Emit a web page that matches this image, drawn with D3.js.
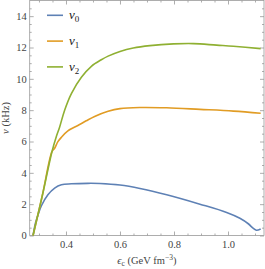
<!DOCTYPE html>
<html>
<head>
<meta charset="utf-8">
<script src="https://cdn.jsdelivr.net/npm/d3@7"></script>
<style>
  body { margin: 0; background: #fff; }
  svg { display: block; }
  .tick text { font-family: "Liberation Serif", serif; font-size: 10.5px; fill: #444; }
</style>
</head>
<body>
<svg id="chart"></svg>
<script>
// values (energy density in GeV fm^-3, frequency in kHz)
const nu0X = [0.278, 0.287, 0.297, 0.309, 0.333, 0.358, 0.383, 0.42, 0.481, 0.526, 0.6, 0.674, 0.773, 0.896, 0.995, 1.044, 1.075, 1.094, 1.105, 1.121];
const nu0Y = [0, 0.8, 1.35, 1.9, 2.6, 3.03, 3.24, 3.30, 3.33, 3.32, 3.22, 3.0, 2.6, 2.0, 1.47, 1.1, 0.75, 0.45, 0.34, 0.42];

const nu1X = [0.278, 0.313, 0.348, 0.358, 0.370, 0.383, 0.407, 0.444, 0.475, 0.506, 0.556, 0.6, 0.674, 0.773, 0.896, 1.02, 1.121];
const nu1Y = [0, 2.6, 5.35, 5.57, 5.99, 6.27, 6.68, 7.02, 7.32, 7.6, 7.93, 8.1, 8.17, 8.15, 8.05, 7.94, 7.8];

const nu2X = [0.278, 0.313, 0.348, 0.364, 0.376, 0.395, 0.42, 0.457, 0.494, 0.531, 0.556, 0.6, 0.649, 0.711, 0.798, 0.872, 0.958, 1.02, 1.121];
const nu2Y = [0, 2.6, 5.35, 6.3, 6.9, 8.0, 9.06, 10.1, 10.8, 11.22, 11.45, 11.75, 11.97, 12.12, 12.23, 12.25, 12.15, 12.08, 11.93];

const seriesNames = ["0", "1", "2"];
const seriesColors = ["#5E81B5", "#E19C24", "#8FB032"];

const xTicks = [0.4, 0.6, 0.8, 1.0];
const yTicks = [0, 2, 4, 6, 8, 10, 12, 14];

const margin = { top: 0.5, right: 1, bottom: 33.5, left: 29.7 };
const W = 265, H = 269;
const width = W - margin.left - margin.right;
const height = H - margin.top - margin.bottom;

const svg = d3.select("#chart").attr("width", W).attr("height", H);
const g = svg.append("g").attr("transform", `translate(${margin.left},${margin.top})`);

const x = d3.scaleLinear().domain([0.2656, 1.1333]).range([0, width]);
const y = d3.scaleLinear().domain([0, 15]).range([height, 0]);

// minor ticks
const xMinor = d3.range(0.3, 1.131, 0.05).filter(v => !xTicks.some(t => Math.abs(t - v) < 1e-6));
const yMinor = d3.range(0.5, 15, 0.5).filter(v => !yTicks.some(t => Math.abs(t - v) < 1e-6));

function styleAxis(sel) {
  sel.select(".domain").remove();
  sel.selectAll(".tick line").attr("stroke", "#999").attr("stroke-width", 0.8);
}

g.append("g").attr("transform", `translate(0,${height})`)
  .call(d3.axisBottom(x).tickValues(xTicks).tickSize(-4).tickPadding(5).tickFormat(d3.format(".1f")))
  .call(styleAxis);
g.append("g").attr("transform", `translate(0,${height})`)
  .call(d3.axisBottom(x).tickValues(xMinor).tickSize(-2).tickFormat(""))
  .call(styleAxis);
g.append("g")
  .call(d3.axisTop(x).tickValues(xTicks).tickSize(-4).tickFormat(""))
  .call(styleAxis);
g.append("g")
  .call(d3.axisTop(x).tickValues(xMinor).tickSize(-2).tickFormat(""))
  .call(styleAxis);

g.append("g")
  .call(d3.axisLeft(y).tickValues(yTicks).tickSize(-4).tickPadding(3))
  .call(styleAxis);
g.append("g")
  .call(d3.axisLeft(y).tickValues(yMinor).tickSize(-2).tickFormat(""))
  .call(styleAxis);
g.append("g").attr("transform", `translate(${width},0)`)
  .call(d3.axisRight(y).tickValues(yTicks).tickSize(-4).tickFormat(""))
  .call(styleAxis);
g.append("g").attr("transform", `translate(${width},0)`)
  .call(d3.axisRight(y).tickValues(yMinor).tickSize(-2).tickFormat(""))
  .call(styleAxis);

// frame
g.append("rect")
  .attr("width", width).attr("height", height)
  .attr("fill", "none").attr("stroke", "#999").attr("stroke-width", 0.8);

// curves
const line = d3.line()
  .x(d => x(d[0]))
  .y(d => y(d[1]))
  .curve(d3.curveCatmullRom.alpha(0.5));

const series = [
  d3.zip(nu0X, nu0Y),
  d3.zip(nu1X, nu1Y),
  d3.zip(nu2X, nu2Y)
];

series.forEach((pts, i) => {
  g.append("path")
    .datum(pts)
    .attr("fill", "none")
    .attr("stroke", seriesColors[i])
    .attr("stroke-width", 1.6)
    .attr("d", line);
});

// legend
const legend = svg.append("g").attr("transform", "translate(47,15.3)");
seriesNames.forEach((s, i) => {
  const row = legend.append("g").attr("transform", `translate(0,${i * 25.8})`);
  row.append("line")
    .attr("x1", 0).attr("x2", 16)
    .attr("stroke", seriesColors[i]).attr("stroke-width", 1.6);
  const t = row.append("text")
    .attr("x", 22).attr("y", 4)
    .style("font-family", "Liberation Serif, serif")
    .style("font-size", "13px")
    .attr("fill", "#222");
  t.append("tspan").style("font-style", "italic").text("ν");
  t.append("tspan").attr("dy", 3).style("font-size", "9px").text(s);
});

// axis labels
svg.append("text")
  .attr("transform", `translate(9,${margin.top + height / 2}) rotate(-90)`)
  .attr("text-anchor", "middle")
  .style("font-family", "Liberation Serif, serif")
  .style("font-size", "10.5px")
  .attr("fill", "#444")
  .call(t => {
    t.append("tspan").style("font-style", "italic").text("ν");
    t.append("tspan").text(" (kHz)");
  });

svg.append("text")
  .attr("x", margin.left + width / 2)
  .attr("y", 264)
  .attr("text-anchor", "middle")
  .style("font-family", "Liberation Serif, serif")
  .style("font-size", "10.5px")
  .attr("fill", "#444")
  .call(t => {
    t.append("tspan").style("font-style", "italic").text("ϵ");
    t.append("tspan").attr("dy", 2).style("font-size", "7.5px").text("c");
    t.append("tspan").attr("dy", -2).text(" (GeV fm");
    t.append("tspan").attr("dy", -4).style("font-size", "7.5px").text("−3");
    t.append("tspan").attr("dy", 4).text(")");
  });
</script>
</body>
</html>
